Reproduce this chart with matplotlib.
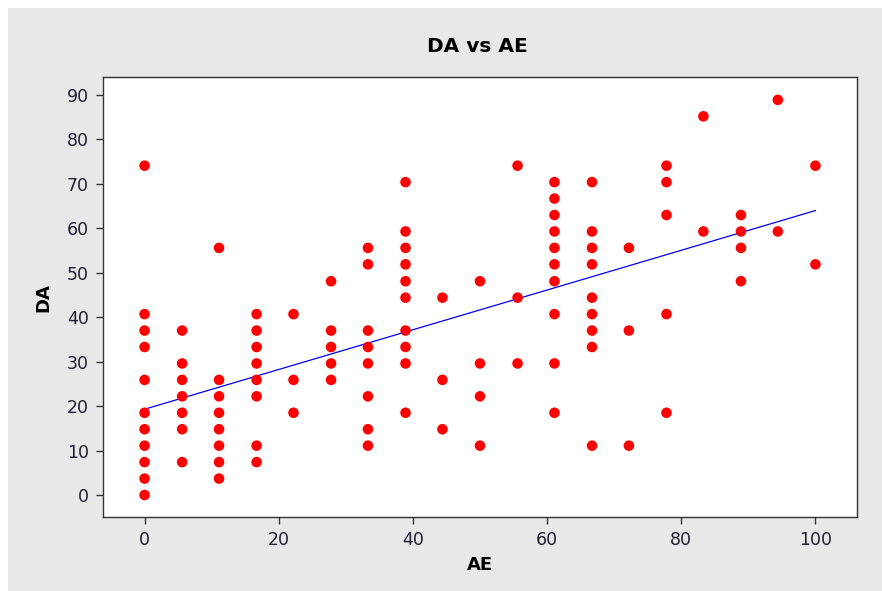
import matplotlib
matplotlib.use('Agg')
import matplotlib.pyplot as plt
from matplotlib.patches import Rectangle

# valores (AE, DA), agrupados por coluna de AE
ae = ([0.0] * 11 + [5.6] * 7 + [11.1] * 8 + [16.7] * 8 + [22.2] * 3 + [27.8] * 5
      + [33.3] * 8 + [38.9] * 10 + [44.4] * 3 + [50.0] * 4 + [55.6] * 3
      + [61.1] * 10 + [66.7] * 9 + [72.2] * 3 + [77.8] * 5 + [83.3] * 2
      + [88.9] * 4 + [94.4] * 2 + [100.0] * 2)

da = [0, 3.7, 7.4, 11.1, 14.8, 18.5, 25.9, 33.3, 37.0, 40.7, 74.1,
      7.4, 14.8, 18.5, 22.2, 25.9, 29.6, 37.0,
      3.7, 7.4, 11.1, 14.8, 18.5, 22.2, 25.9, 55.6,
      7.4, 11.1, 22.2, 25.9, 29.6, 33.3, 37.0, 40.7,
      18.5, 25.9, 40.7,
      25.9, 29.6, 33.3, 37.0, 48.1,
      11.1, 14.8, 22.2, 29.6, 33.3, 37.0, 51.9, 55.6,
      18.5, 29.6, 33.3, 37.0, 44.4, 48.1, 51.9, 55.6, 59.3, 70.4,
      14.8, 25.9, 44.4,
      11.1, 22.2, 29.6, 48.1,
      29.6, 44.4, 74.1,
      18.5, 29.6, 40.7, 48.1, 51.9, 55.6, 59.3, 63.0, 66.7, 70.4,
      11.1, 33.3, 37.0, 40.7, 44.4, 51.9, 55.6, 59.3, 70.4,
      11.1, 37.0, 55.6,
      18.5, 40.7, 63.0, 70.4, 74.1,
      59.3, 85.2,
      48.1, 55.6, 59.3, 63.0,
      59.3, 88.9,
      51.9, 74.1]

# extremos da reta de regressão
reta_ae = [0, 100]
reta_da = [19.3, 64.0]

x_ticks = [0, 20, 40, 60, 80, 100]
y_ticks = [0, 10, 20, 30, 40, 50, 60, 70, 80, 90]

cinza = '#e8e8e8'

fig = plt.figure(figsize=(8.82, 5.91), dpi=100, facecolor='white')
fig.add_artist(Rectangle((8 / 882, 0), 1, 583 / 591, transform=fig.transFigure,
                         facecolor=cinza, edgecolor='none', zorder=0))

ax = fig.add_axes([103 / 882, 1 - 517 / 591, 754 / 882, 440 / 591])
ax.set_facecolor('white')

ax.scatter(ae, da, s=58, color='#ff0000', edgecolors='none', zorder=3)
ax.plot(reta_ae, reta_da, color='#0000ff', linewidth=0.9, zorder=2)

ax.set_xlim(-6.2, 106.2)
ax.set_ylim(-4.95, 94.05)
ax.set_xticks(x_ticks)
ax.set_yticks(y_ticks)
ax.tick_params(direction='out', length=5, width=1, color='#333333',
               labelsize=12.5, labelcolor='#1f1f2f', pad=5)
for s in ax.spines.values():
    s.set_linewidth(1.0)
    s.set_color('#333333')

fig.text(477 / 882, 1 - 47 / 591, 'DA vs AE', ha='center', va='center',
         fontsize=14.5, fontweight='bold')
fig.text(480 / 882, 1 - 565 / 591, 'AE', ha='center', va='center',
         fontsize=13, fontweight='bold')
fig.text(43 / 882, 1 - 298 / 591, 'DA', ha='center', va='center',
         fontsize=13, fontweight='bold', rotation=90)

fig.savefig('out.png', dpi=100, facecolor=fig.get_facecolor())
